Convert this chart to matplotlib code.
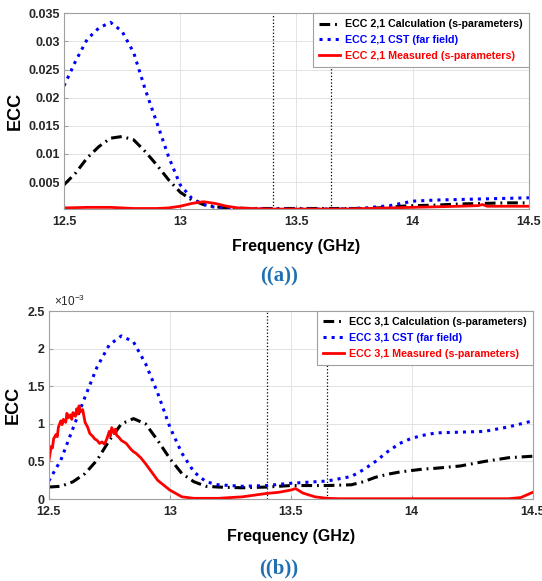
import numpy as np
import matplotlib
matplotlib.use("Agg")
import matplotlib.pyplot as plt

plt.rcParams['font.family'] = ['Liberation Sans', 'DejaVu Sans']
plt.rcParams['font.weight'] = 'bold'

# ---- panel (a): ECC 2,1 ----
f_a = [12.5, 12.55, 12.6, 12.65, 12.7, 12.75, 12.8, 12.85, 12.9, 12.95, 13.0,
       13.05, 13.1, 13.15, 13.2, 13.3, 13.4, 13.5, 13.6, 13.7, 13.8, 13.9,
       13.95, 14.0, 14.1, 14.2, 14.3, 14.4, 14.5]
cst_a = [0.0221, 0.0265, 0.0304, 0.0324, 0.0334, 0.0318, 0.028, 0.0214, 0.0155,
         0.0095, 0.0045, 0.0021, 0.001, 0.0005, 0.0003, 0.00025, 0.0002, 0.0002,
         0.0002, 0.00025, 0.0004, 0.0008, 0.0012, 0.0016, 0.0018, 0.0019, 0.002,
         0.0021, 0.0022]
calc_a = [0.0045, 0.0066, 0.0093, 0.0113, 0.0128, 0.0131, 0.0125, 0.0104, 0.008,
          0.0054, 0.0032, 0.0018, 0.001, 0.0006, 0.0004, 0.0003, 0.0003, 0.0003,
          0.0003, 0.0003, 0.0003, 0.0005, 0.0007, 0.0008, 0.0009, 0.0011, 0.0012,
          0.0013, 0.0013]
f_meas_a = [12.5, 12.6, 12.7, 12.8, 12.9, 12.95, 13.0, 13.05, 13.1, 13.15, 13.2,
            13.25, 13.3, 13.4, 13.5, 13.6, 13.7, 13.8, 13.9, 14.0, 14.1, 14.2,
            14.28, 14.3, 14.32, 14.4, 14.5]
meas_a = [0.0004, 0.0005, 0.0005, 0.0003, 0.0003, 0.0004, 0.0007, 0.0012, 0.0015,
          0.0012, 0.0007, 0.0004, 0.0003, 0.0002, 0.0002, 0.0002, 0.0002, 0.0003,
          0.0004, 0.0005, 0.0006, 0.0007, 0.0008, 0.001, 0.0007, 0.0007, 0.0007]

# ---- panel (b): ECC 3,1 (values x 1e-3) ----
f_b = [12.5, 12.55, 12.6, 12.65, 12.7, 12.75, 12.8, 12.85, 12.9, 12.95, 13.0,
       13.05, 13.1, 13.15, 13.2, 13.3, 13.4, 13.5, 13.65, 13.75, 13.8, 13.85,
       13.9, 13.95, 14.0, 14.05, 14.1, 14.2, 14.3, 14.4, 14.5]
cst_b = [0.24, 0.52, 0.94, 1.36, 1.76, 2.05, 2.17, 2.09, 1.80, 1.41, 0.96, 0.61,
         0.36, 0.23, 0.19, 0.17, 0.18, 0.21, 0.24, 0.30, 0.39, 0.50, 0.63, 0.74,
         0.81, 0.85, 0.88, 0.89, 0.90, 0.96, 1.04]
calc_b = [0.16, 0.17, 0.23, 0.34, 0.52, 0.78, 1.0, 1.07, 1.0, 0.78, 0.54, 0.34,
          0.23, 0.17, 0.16, 0.15, 0.16, 0.18, 0.18, 0.19, 0.23, 0.29, 0.33, 0.36,
          0.38, 0.40, 0.41, 0.44, 0.50, 0.55, 0.57]
f_meas_b = [12.5, 12.505, 12.51, 12.515, 12.52, 12.53, 12.535, 12.54, 12.55,
            12.555, 12.56, 12.57, 12.575, 12.58, 12.59, 12.595, 12.6, 12.61,
            12.615, 12.62, 12.625, 12.63, 12.64, 12.65, 12.66, 12.67, 12.68,
            12.69, 12.7, 12.71, 12.72, 12.73, 12.74, 12.75, 12.755, 12.76, 12.77,
            12.775, 12.78, 12.79, 12.8, 12.82, 12.83, 12.84, 12.85, 12.86, 12.88,
            12.9, 12.95, 13.0, 13.05, 13.1, 13.2, 13.3, 13.4, 13.45, 13.5, 13.52,
            13.55, 13.6, 13.65, 13.7, 13.8, 14.0, 14.2, 14.4, 14.45, 14.5]
meas_b = [0.50, 0.60, 0.70, 0.68, 0.80, 0.86, 0.83, 0.96, 1.04, 0.99, 1.06, 1.02,
          1.14, 1.08, 1.12, 1.06, 1.15, 1.10, 1.20, 1.13, 1.24, 1.16, 1.19, 1.02,
          0.96, 0.87, 0.84, 0.80, 0.78, 0.74, 0.76, 0.73, 0.80, 0.90, 0.84, 0.95,
          0.87, 0.93, 0.85, 0.82, 0.78, 0.74, 0.70, 0.66, 0.63, 0.61, 0.55, 0.47,
          0.25, 0.12, 0.03, 0.01, 0.01, 0.03, 0.075, 0.09, 0.12, 0.14, 0.08, 0.03,
          0.01, 0.005, 0.005, 0.005, 0.005, 0.005, 0.02, 0.09]

band = [13.4, 13.65]
xticks = [12.5, 13, 13.5, 14, 14.5]
xtick_labels = ['12.5', '13', '13.5', '14', '14.5']
yticks_a = [0.005, 0.01, 0.015, 0.02, 0.025, 0.03, 0.035]
ytick_labels_a = ['0.005', '0.01', '0.015', '0.02', '0.025', '0.03', '0.035']
yticks_b = [0, 0.5, 1, 1.5, 2, 2.5]
ytick_labels_b = ['0', '0.5', '1', '1.5', '2', '2.5']

fig = plt.figure(figsize=(5.42, 5.81), dpi=100)
ax1 = fig.add_axes([0.118, 0.640, 0.858, 0.337])
ax2 = fig.add_axes([0.090, 0.141, 0.893, 0.3236])


def style_axes(ax):
    ax.grid(True, color='#e3e3e3', linewidth=0.7)
    ax.set_axisbelow(True)
    for s in ax.spines.values():
        s.set_color('#a0a0a0')
        s.set_linewidth(0.8)
    ax.tick_params(direction='in', length=3, color='#a0a0a0',
                   labelsize=9, labelcolor='#262626', pad=3)
    ax.tick_params(axis='x', pad=5)
    ax.set_xlim(12.5, 14.5)
    ax.set_xticks(xticks)
    ax.set_xticklabels(xtick_labels, fontweight='bold')
    ax.set_xlabel('Frequency (GHz)', fontsize=11.5, fontweight='bold', labelpad=8)
    ax.set_ylabel('ECC', fontsize=13, fontweight='bold')
    for x in band:
        ax.axvline(x, color='black', linestyle=':', linewidth=0.9)


def draw_panel(ax, f, calc, cst, fm, meas, pair):
    ax.plot(f, calc, color='black', linewidth=2.2, dashes=(3.5, 1.6, 0.6, 1.6),
            label='ECC %s Calculation (s-parameters)' % pair)
    ax.plot(f, cst, color='blue', linewidth=2.2, linestyle=':',
            label='ECC %s CST (far field)' % pair)
    ax.plot(fm, meas, color='red', linewidth=2,
            label='ECC %s Measured (s-parameters)' % pair)
    leg = ax.legend(loc='upper right', borderaxespad=0, fancybox=False,
                    prop={'size': 7.7, 'weight': 'bold'}, labelcolor='linecolor',
                    handlelength=2.0, handletextpad=0.5, borderpad=0.55,
                    labelspacing=0.55, framealpha=1)
    leg.get_frame().set_edgecolor('#a0a0a0')
    leg.get_frame().set_linewidth(0.8)


style_axes(ax1)
draw_panel(ax1, f_a, calc_a, cst_a, f_meas_a, meas_a, '2,1')
ax1.set_ylim(0.00018, 0.035)
ax1.set_yticks(yticks_a)
ax1.set_yticklabels(ytick_labels_a, fontweight='bold')
ax1.yaxis.set_label_coords(-0.087, 0.5)

style_axes(ax2)
draw_panel(ax2, f_b, calc_b, cst_b, f_meas_b, meas_b, '3,1')
ax2.set_ylim(0, 2.5)
ax2.set_yticks(yticks_b)
ax2.set_yticklabels(ytick_labels_b, fontweight='bold')
ax2.yaxis.set_label_coords(-0.055, 0.5)
ax2.text(0.01, 1.01, r'$\mathregular{\times10^{-3}}$', transform=ax2.transAxes,
         fontsize=8.5, fontweight='normal', color='#262626', ha='left', va='bottom')

fig.text(0.515, 1 - 276 / 581, '((a))', family=['Liberation Serif', 'DejaVu Serif'],
         fontsize=15, fontweight='bold', color='#1f6fb2', ha='center', va='center')
fig.text(0.515, 1 - 568 / 581, '((b))', family=['Liberation Serif', 'DejaVu Serif'],
         fontsize=15, fontweight='bold', color='#1f6fb2', ha='center', va='center')

fig.savefig('out.png', dpi=100)
